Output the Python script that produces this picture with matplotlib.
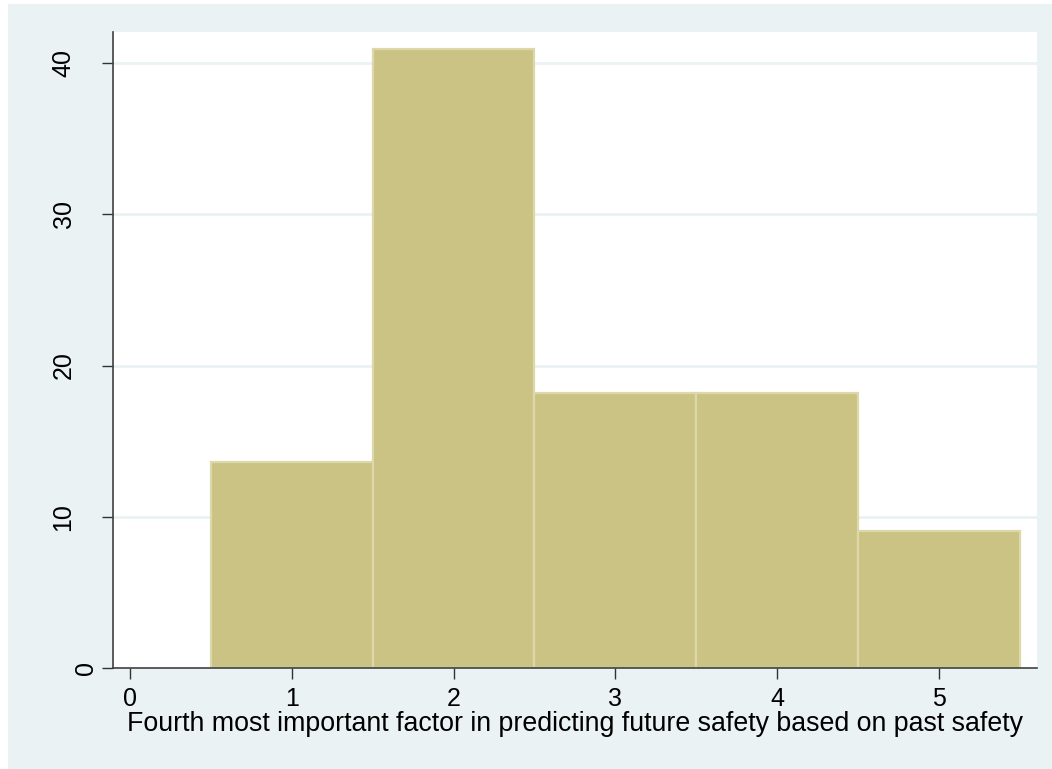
import matplotlib
matplotlib.use("Agg")
import matplotlib.pyplot as plt
from matplotlib.patches import Rectangle
from matplotlib.transforms import ScaledTranslation

# Data (percent of responses per category)
categories = [1, 2, 3, 4, 5]
percents = [13.64, 40.91, 18.18, 18.18, 9.09]
xticks = [0, 1, 2, 3, 4, 5]
yticks = [0, 10, 20, 30, 40]
xlabel = "Fourth most important factor in predicting future safety based on past safety"

plt.rcParams['font.family'] = ['Liberation Sans', 'DejaVu Sans']

W, H = 1052, 769
fig = plt.figure(figsize=(W / 100, H / 100), dpi=100)
fig.patch.set_facecolor('white')
# outer light background (image starts with a thin white border top/left)
fig.patches.append(Rectangle((8 / W, 0), 1 - 8 / W, 1 - 4 / H, transform=fig.transFigure,
                             facecolor='#EAF2F3', edgecolor='none', zorder=-10))

left, right, top, bottom = 113, 1037, 32, 668
ax = fig.add_axes([left / W, (H - bottom) / H, (right - left) / W, (bottom - top) / H])
ax.set_zorder(5)
ax.set_facecolor('white')

ax.bar(categories, percents, width=1.0, align='center', color='#CBC383',
       edgecolor='#DDD8AA', linewidth=1.6, zorder=2)

ax.set_xlim(-0.105, 5.606)
ax.set_ylim(0, 42.05)
ax.set_xticks(xticks)
ax.set_yticks(yticks)
ax.set_yticklabels([str(v) for v in yticks], rotation=90, va='center')

for y in yticks[1:]:
    ax.axhline(y, color='#EAF2F3', linewidth=2, zorder=1)

for s in ['top', 'right']:
    ax.spines[s].set_visible(False)
for s in ['left', 'bottom']:
    ax.spines[s].set_color('#404040')
    ax.spines[s].set_linewidth(1.2)
    ax.spines[s].set_zorder(3)

ax.tick_params(axis='both', direction='out', length=8, width=1.0, color='#333333',
               labelsize=18, labelcolor='black')
ax.tick_params(axis='y', pad=19)
ax.tick_params(axis='x', pad=6)

# the "0" label on the y axis sits closer to the axis in the reference
for lbl in ax.get_yticklabels():
    if lbl.get_text() == '0':
        lbl.set_transform(lbl.get_transform() + ScaledTranslation(0.22, 0, fig.dpi_scale_trans))

ax.set_xlabel(xlabel, fontsize=19.3, labelpad=0)

fig.savefig('out.png', dpi=100, facecolor=fig.get_facecolor())
